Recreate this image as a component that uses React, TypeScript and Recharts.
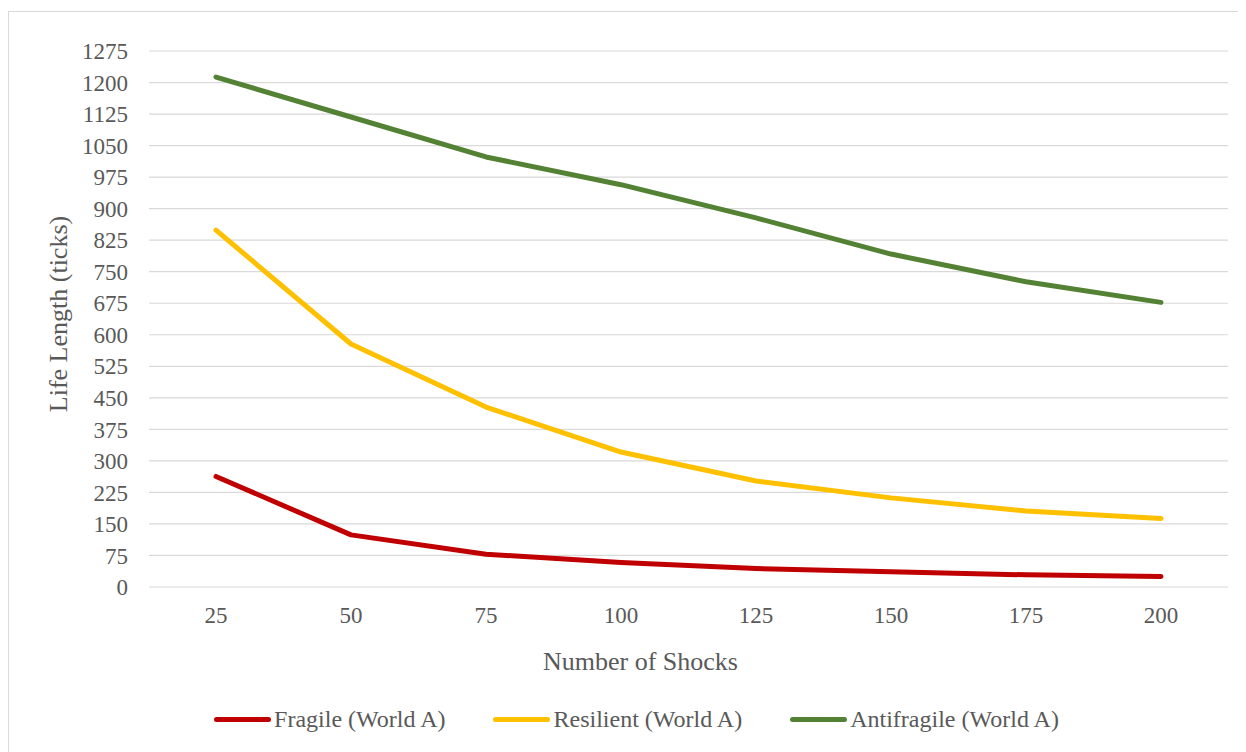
import { LineChart, Line, XAxis, YAxis, CartesianGrid, Legend } from 'recharts';

const shocks = [25, 50, 75, 100, 125, 150, 175, 200];
const fragile = [263, 124, 78, 58, 44, 36, 29, 25];
const resilient = [849, 578, 428, 321, 252, 212, 181, 163];
const antifragile = [1213, 1118, 1023, 957, 878, 792, 726, 677];
const yTicks = [0, 75, 150, 225, 300, 375, 450, 525, 600, 675, 750, 825, 900, 975, 1050, 1125, 1200, 1275];

const seriesKeys = ['fragile', 'resilient', 'antifragile'];
const seriesNames = ['Fragile (World A)', 'Resilient (World A)', 'Antifragile (World A)'];
const seriesColors = ['#c00000', '#ffc000', '#548235'];

const FONT = '"Liberation Serif", "Times New Roman", serif';
const TEXT = '#595959';

const data = shocks.map((s, i) => ({
  shocks: s,
  fragile: fragile[i],
  resilient: resilient[i],
  antifragile: antifragile[i],
}));

// legend drawn in series order (recharts sorts payload by name otherwise)
function LegendRow() {
  return (
    <div style={{ display: 'flex', justifyContent: 'center', alignItems: 'center', fontFamily: FONT, fontSize: 24, color: TEXT, paddingLeft: 17 }}>
      {seriesNames.map((name, i) => (
        <div key={name} style={{ display: 'flex', alignItems: 'center', marginRight: i < seriesNames.length - 1 ? 48 : 0 }}>
          <span style={{ display: 'inline-block', width: 57, height: 5, borderRadius: 3, background: seriesColors[i], marginRight: 3 }} />
          <span>{name}</span>
        </div>
      ))}
    </div>
  );
}

export default function App() {
  return (
    <div style={{ position: 'relative', top: 3, width: 1240, height: 746, border: '1px solid #d9d9d9', borderRight: 'none', boxSizing: 'border-box', background: '#fff' }}>
      <LineChart width={1238} height={745} data={data} margin={{ top: 39, right: 19, left: 0, bottom: 130 }}>
        <CartesianGrid vertical={false} stroke="#d9d9d9" strokeWidth={1.2} />
        <XAxis
          dataKey="shocks"
          height={40}
          axisLine={false}
          tickLine={false}
          tickSize={0}
          tickMargin={20}
          padding={{ left: 67, right: 67 }}
          tick={{ fill: TEXT, fontSize: 23, fontFamily: FONT }}
          label={() => (
            <text x={631.5} y={658} textAnchor="middle" fill={TEXT} fontSize={26} fontFamily={FONT}>
              Number of Shocks
            </text>
          )}
        />
        <YAxis
          width={140}
          domain={[0, 1275]}
          ticks={yTicks}
          interval={0}
          axisLine={false}
          tickLine={false}
          tickSize={0}
          tickMargin={21}
          tick={{ fill: TEXT, fontSize: 23, fontFamily: FONT }}
          label={() => (
            <text x={58} y={302} transform="rotate(-90 58 302)" textAnchor="middle" fill={TEXT} fontSize={26} fontFamily={FONT}>
              Life Length (ticks)
            </text>
          )}
        />
        <Legend
          layout="horizontal"
          verticalAlign="middle"
          align="center"
          content={LegendRow}
          wrapperStyle={{ top: 694, left: 0, width: 1238 }}
        />
        {seriesKeys.map((key, i) => (
          <Line
            key={key}
            type="linear"
            dataKey={key}
            name={seriesNames[i]}
            stroke={seriesColors[i]}
            strokeWidth={5}
            strokeLinecap="round"
            strokeLinejoin="round"
            dot={false}
            activeDot={false}
            isAnimationActive={false}
          />
        ))}
      </LineChart>
    </div>
  );
}
